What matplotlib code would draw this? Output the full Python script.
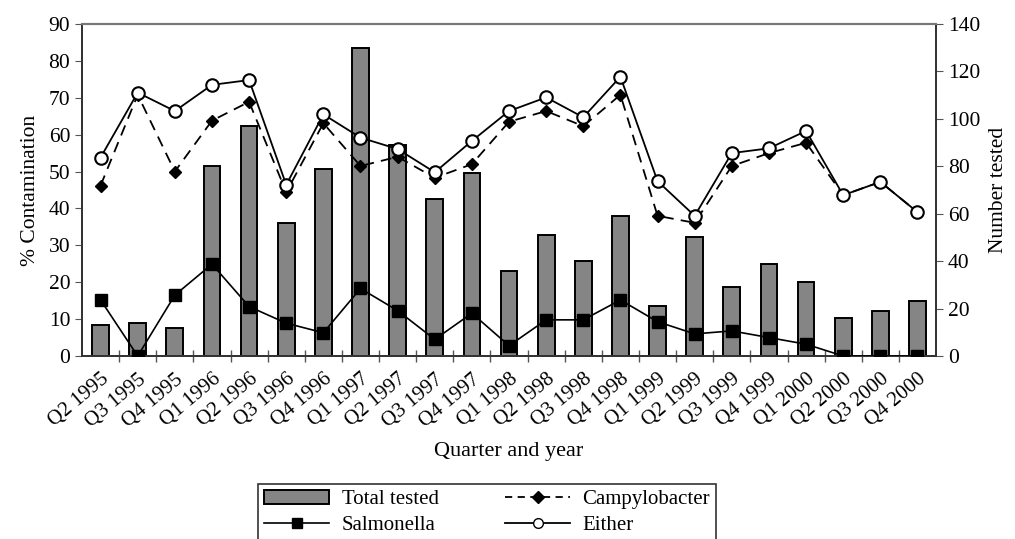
import matplotlib
matplotlib.use("Agg")
import matplotlib.pyplot as plt
import numpy as np
from matplotlib.patches import Patch
from matplotlib.lines import Line2D
from matplotlib.ticker import FixedLocator

quarters = ["Q2 1995", "Q3 1995", "Q4 1995", "Q1 1996", "Q2 1996", "Q3 1996",
            "Q4 1996", "Q1 1997", "Q2 1997", "Q3 1997", "Q4 1997", "Q1 1998",
            "Q2 1998", "Q3 1998", "Q4 1998", "Q1 1999", "Q2 1999", "Q3 1999",
            "Q4 1999", "Q1 2000", "Q2 2000", "Q3 2000", "Q4 2000"]
total_tested = [13, 14, 12, 80, 97, 56, 79, 130, 89, 66, 77, 36,
                51, 40, 59, 21, 50, 29, 39, 31, 16, 19, 23]
salmonella = [15.2, 0, 16.5, 24.9, 13.4, 8.9, 6.3, 18.3, 12.3, 4.5, 11.6, 2.8,
              9.8, 9.8, 15.2, 9.3, 6.0, 6.8, 5.0, 3.2, 0, 0, 0]
campylobacter = [46.2, 70.8, 50.0, 63.8, 68.9, 44.4, 63.1, 51.5, 54.0, 48.3, 52.0, 63.5,
                 66.4, 62.3, 70.8, 38.0, 36.1, 51.5, 55.0, 57.8, 43.6, 47.2, 39.0]
either = [53.8, 71.4, 66.4, 73.5, 74.8, 46.4, 65.5, 59.2, 56.1, 49.8, 58.3, 66.4,
          70.1, 64.7, 75.7, 47.4, 38.0, 55.0, 56.3, 61.0, 43.6, 47.2, 39.0]

plt.rcParams['font.family'] = ['Liberation Serif', 'DejaVu Serif']

fig = plt.figure(figsize=(10.15, 5.39), dpi=100)
ax = fig.add_axes([0.0808, 0.3395, 0.8414, 0.616])
ax2 = ax.twinx()
ax.set_zorder(ax2.get_zorder() + 1)
ax.patch.set_visible(False)
ax2.set_facecolor('#fbfbfb')

x = np.arange(len(quarters))

# bars on the right axis (number tested)
ax2.bar(x, total_tested, width=0.45, color='#858585', edgecolor='black', linewidth=1.4, zorder=2)
ax2.set_ylim(0, 140)
ax2.set_yticks(range(0, 141, 20))
ax2.set_ylabel("Number tested", fontsize=15.5, labelpad=6)

# lines on the left axis (% contamination)
ax.plot(x, salmonella, color='black', lw=1.2, marker='s', ms=8, mfc='black', mec='black', zorder=3)
ax.plot(x, campylobacter, color='black', lw=1.3, ls=(0, (6, 4)), marker='D', ms=6.5,
        mfc='black', mec='black', zorder=4)
ax.plot(x, either, color='black', lw=1.3, marker='o', ms=9, mfc='white', mec='black',
        mew=1.5, zorder=5)
ax.set_ylim(0, 90)
ax.set_yticks(range(0, 91, 10))
ax.set_ylabel("% Contamination", fontsize=15.5, labelpad=6)
ax.set_xlim(-0.5, len(quarters) - 0.5)

ax.set_xticks(x)
ax.set_xticklabels(quarters, rotation=40, ha='right', rotation_mode='anchor', fontsize=15)
ax.tick_params(axis='x', length=0, pad=10)
ax.xaxis.set_minor_locator(FixedLocator(np.arange(0.5, len(quarters) - 1, 1)))
ax.tick_params(axis='x', which='minor', direction='inout', length=8, width=1, color='#555555')
ax.tick_params(axis='y', labelsize=15.5, length=5, color='#555555')
ax2.tick_params(axis='y', labelsize=15.5, length=5, color='#555555')
ax.set_xlabel("Quarter and year", fontsize=16, labelpad=8)

for a in (ax, ax2):
    for side in ('left', 'right', 'bottom'):
        a.spines[side].set_color('#333333')
        a.spines[side].set_linewidth(1.3)
    a.spines['top'].set_color('#777777')
    a.spines['top'].set_linewidth(1.5)

handles = [
    Patch(facecolor='#858585', edgecolor='black', linewidth=1.4),
    Line2D([], [], color='black', lw=1.2, marker='s', ms=7, mfc='black'),
    Line2D([], [], color='black', lw=1.3, ls=(0, (4, 3)), marker='D', ms=6, mfc='black'),
    Line2D([], [], color='black', lw=1.3, marker='o', ms=7, mfc='white', mec='black'),
]
labels = ["Total tested", "Salmonella", "Campylobacter", "Either"]
leg = fig.legend(handles, labels, loc='upper center', bbox_to_anchor=(0.48, 0.122), ncol=2,
                 fontsize=15, frameon=True, fancybox=False, edgecolor='black',
                 handlelength=3.1, columnspacing=3.2, borderpad=0.3, labelspacing=0.3,
                 handletextpad=0.6)
leg.get_frame().set_linewidth(1.2)

fig.savefig("out.png", dpi=100)
